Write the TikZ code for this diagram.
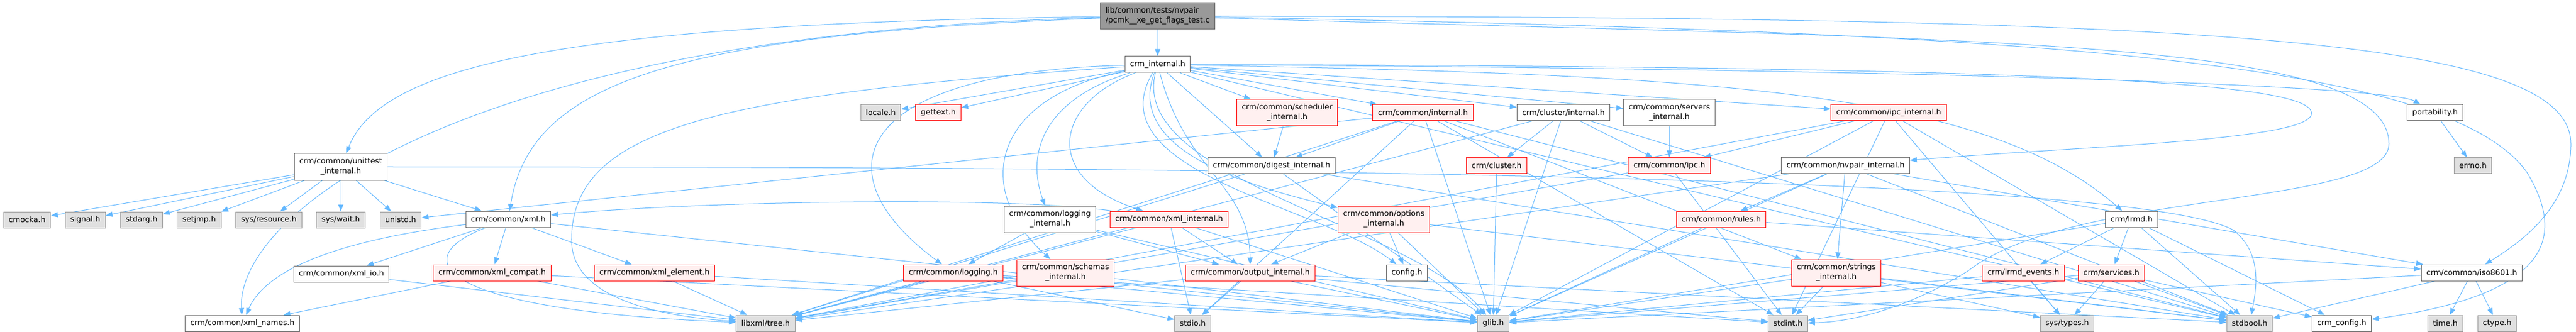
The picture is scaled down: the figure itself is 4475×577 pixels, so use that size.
\documentclass[tikz,border=0pt]{standalone}
\usepackage{fontspec}
\setmainfont{DejaVu Sans}
\usetikzlibrary{arrows.meta,backgrounds}

\definecolor{edgeblue}{HTML}{63B8FF}
\definecolor{hdrline}{HTML}{666666}
\definecolor{sysfill}{HTML}{E0E0E0}
\definecolor{sysline}{HTML}{999999}
\definecolor{redfill}{HTML}{FFF0F0}

\tikzset{
  hdr/.style={draw=hdrline, fill=white, line width=1pt, minimum height=28pt,
    inner xsep=9pt, inner ysep=2pt, align=center,
    font=\fontsize{13.3}{17}\selectfont},
  sys/.style={hdr, draw=sysline, fill=sysfill},
  trunc/.style={hdr, draw=red, fill=redfill},
  srcfile/.style={hdr, fill=sysline, align=left, minimum height=46pt},
  two/.style={minimum height=46pt},
  inc/.style={draw=edgeblue, line width=1pt, -{Triangle[length=12pt,width=9pt]}},
}

\begin{document}
\begin{tikzpicture}[x=1pt,y=-1pt]
  \useasboundingbox (0,0) rectangle (4475,577);
  % rank 0 - 2
  \node[srcfile] (main) at (2011,28) {lib/common/tests/nvpair\\/pcmk\_\_xe\_get\_flags\_test.c};
  \node[hdr] (ci) at (2011,112) {crm\_internal.h};
  \node[sys] (locale) at (1530,196) {locale.h};
  \node[trunc] (gettext) at (1630,196) {gettext.h};
  \node[trunc,two] (sched) at (2236,196) {crm/common/scheduler\\\_internal.h};
  \node[trunc] (cinternal) at (2472,196) {crm/common/internal.h};
  \node[hdr] (clint) at (2716,196) {crm/cluster/internal.h};
  \node[hdr,two] (servers) at (2900,196) {crm/common/servers\\\_internal.h};
  \node[trunc] (ipcint) at (3281,196) {crm/common/ipc\_internal.h};
  \node[hdr] (port) at (4230,196) {portability.h};
  % rank 3
  \node[hdr,two] (ut) at (592,290) {crm/common/unittest\\\_internal.h};
  \node[hdr] (digest) at (2209,288) {crm/common/digest\_internal.h};
  \node[trunc] (cluster) at (2600,288) {crm/cluster.h};
  \node[trunc] (ipc) at (2900,288) {crm/common/ipc.h};
  \node[hdr] (nvpair) at (3206,288) {crm/common/nvpair\_internal.h};
  \node[sys] (errno) at (4296,288) {errno.h};
  % rank 4
  \node[sys] (cmocka) at (47,382) {cmocka.h};
  \node[sys] (signal) at (148,382) {signal.h};
  \node[sys] (stdarg) at (246,382) {stdarg.h};
  \node[sys] (setjmp) at (346,382) {setjmp.h};
  \node[sys] (sysres) at (467,382) {sys/resource.h};
  \node[sys] (syswait) at (592,382) {sys/wait.h};
  \node[sys] (unistd) at (696,382) {unistd.h};
  \node[hdr] (xml) at (883,381) {crm/common/xml.h};
  \node[hdr,two] (logint) at (1824,381) {crm/common/logging\\\_internal.h};
  \node[trunc] (xmlint) at (2031,381) {crm/common/xml\_internal.h};
  \node[trunc,two] (opts) at (2404,381) {crm/common/options\\\_internal.h};
  \node[trunc] (rules) at (2990,381) {crm/common/rules.h};
  \node[hdr] (lrmd) at (3703,381) {crm/lrmd.h};
  % rank 5
  \node[hdr] (xmlio) at (593,476) {crm/common/xml\_io.h};
  \node[trunc] (compat) at (855,474) {crm/common/xml\_compat.h};
  \node[trunc] (element) at (1137,474) {crm/common/xml\_element.h};
  \node[trunc] (logging) at (1656,474) {crm/common/logging.h};
  \node[trunc,two] (schemas) at (1851,474) {crm/common/schemas\\\_internal.h};
  \node[trunc] (output) at (2172,474) {crm/common/output\_internal.h};
  \node[hdr] (config) at (2444,474) {config.h};
  \node[trunc,two] (strings) at (3190,474) {crm/common/strings\\\_internal.h};
  \node[trunc] (lrmdev) at (3515,474) {crm/lrmd\_events.h};
  \node[trunc] (services) at (3668,474) {crm/services.h};
  \node[hdr] (iso) at (4294,474) {crm/common/iso8601.h};
  % rank 6
  \node[hdr] (names) at (421,562) {crm/common/xml\_names.h};
  \node[sys] (tree) at (1330,562) {libxml/tree.h};
  \node[sys] (stdio) at (2072,562) {stdio.h};
  \node[sys] (glib) at (2594,562) {glib.h};
  \node[sys] (stdint) at (3106,562) {stdint.h};
  \node[sys] (systypes) at (3591,562) {sys/types.h};
  \node[sys] (stdbool) at (3908,562) {stdbool.h};
  \node[hdr] (crmconfig) at (4068,562) {crm\_config.h};
  \node[sys] (time) at (4248,562) {time.h};
  \node[sys] (ctype) at (4338,562) {ctype.h};

  \begin{scope}[on background layer]
  \fill[white] (0,0) rectangle (4475,577);
  % straight includes
  \foreach \s/\t in {main/ci, sched/digest, servers/ipc, cluster/glib, port/errno, xmlio/tree}
    \draw[inc] (\s) -- (\t);
  \foreach \t in {locale,gettext,sched,cinternal,clint,servers,ipcint,digest,stdbool}
    \draw[inc] (ci) -- (\t);
  \foreach \t in {cmocka,signal,stdarg,setjmp,sysres,syswait,unistd,xml}
    \draw[inc] (ut) -- (\t);
  \foreach \t in {digest,unistd,tree,stdio,glib,stdint,strings,stdbool}
    \draw[inc] (cinternal) -- (\t);
  \foreach \t in {cluster,glib,ipc,tree,stdbool}
    \draw[inc] (clint) -- (\t);
  \foreach \t in {ipc,glib,tree,stdint,stdbool,systypes}
    \draw[inc] (ipcint) -- (\t);
  \foreach \t in {tree,glib,stdbool}
    \draw[inc] (digest) -- (\t);
  \foreach \t in {tree,stdint}
    \draw[inc] (ipc) -- (\t);
  \foreach \t in {rules,strings,glib,tree,stdbool,iso}
    \draw[inc] (nvpair) -- (\t);
  \foreach \t in {compat,element,xmlio,glib}
    \draw[inc] (xml) -- (\t);
  \foreach \t in {logging,output,glib}
    \draw[inc] (logint) -- (\t);
  \foreach \t in {stdio,output,glib,tree}
    \draw[inc] (xmlint) -- (\t);
  \foreach \t in {output,config,glib,stdbool}
    \draw[inc] (opts) -- (\t);
  \foreach \t in {glib,iso}
    \draw[inc] (rules) -- (\t);
  \foreach \t in {lrmdev,services,glib,stdbool,crmconfig}
    \draw[inc] (lrmd) -- (\t);
  \foreach \t in {tree,names,glib}
    \draw[inc] (compat) -- (\t);
  \foreach \t in {tree,glib}
    \draw[inc] (element) -- (\t);
  \foreach \t in {stdio,tree,glib,stdint}
    \draw[inc] (logging) -- (\t);
  \foreach \t in {tree,glib}
    \draw[inc] (schemas) -- (\t);
  \foreach \t in {stdio,glib,tree,stdbool,stdint}
    \draw[inc] (output) -- (\t);
  \foreach \t in {stdint,glib,stdbool,systypes}
    \draw[inc] (strings) -- (\t);
  \foreach \t in {systypes,glib}
    \draw[inc] (lrmdev) -- (\t);
  \foreach \t in {systypes,stdint,stdbool,crmconfig,glib}
    \draw[inc] (services) -- (\t);
  \foreach \t in {time,ctype,stdbool,glib}
    \draw[inc] (iso) -- (\t);
  % routed includes
  \draw[inc] (main) .. controls (950,40) and (660,120) .. (ut);
  \draw[inc] (main) .. controls (780,60) and (410,380) .. (names);
  \draw[inc] (main) .. controls (1150,60) and (920,150) .. (xml);
  \draw[inc] (main) .. controls (3800,30) and (4466,60) .. (4466,250)
    .. controls (4466,360) and (4380,420) .. (iso);
  \draw[inc] (main) .. controls (3500,55) and (4250,100) .. (4390,300)
    .. controls (4450,400) and (4450,510) .. (crmconfig);
  \draw[inc] (main) .. controls (3400,70) and (4150,60) .. (4150,250)
    .. controls (4150,360) and (3600,330) .. (3420,470)
    .. controls (3300,545) and (3200,560) .. (stdint);
  \draw[inc] (ci) .. controls (3700,115) and (4030,150) .. (4015,200)
    .. controls (4000,245) and (3600,255) .. (nvpair);
  \draw[inc] (ci) .. controls (3400,120) and (4150,150) .. (port);
  \draw[inc] (ci) .. controls (1480,125) and (1420,300) .. (logging);
  \draw[inc] (ci) .. controls (1250,165) and (990,220) .. (993,420)
    .. controls (995,520) and (1150,550) .. (tree);
  \draw[inc] (ci) .. controls (3000,130) and (3450,160) .. (lrmd);
  \draw[inc] (ci) .. controls (2060,300) and (2170,320) .. (output);
  \draw[inc] (ci) .. controls (1820,170) and (1780,260) .. (logint);
  \draw[inc] (ci) .. controls (1720,170) and (1690,330) .. (schemas);
  \draw[inc] (ci) .. controls (1830,180) and (1810,310) .. (xmlint);
  \draw[inc] (ci) .. controls (1950,270) and (2200,330) .. (opts);
  \draw[inc] (ci) .. controls (1900,300) and (2300,360) .. (config);
  \draw[inc] (ci) .. controls (1960,310) and (2450,390) .. (glib);
  \draw[inc] (ut) .. controls (2000,290) and (3700,300) .. (3880,400)
    .. controls (3930,440) and (3920,500) .. (stdbool);
  \draw[inc] (xml) .. controls (700,450) and (760,540) .. (tree);
  \draw[inc] (xml) .. controls (650,410) and (470,450) .. (names);
  \draw[inc] (xmlint) .. controls (1750,340) and (1200,350) .. (xml);
  \end{scope}
\end{tikzpicture}
\end{document}
